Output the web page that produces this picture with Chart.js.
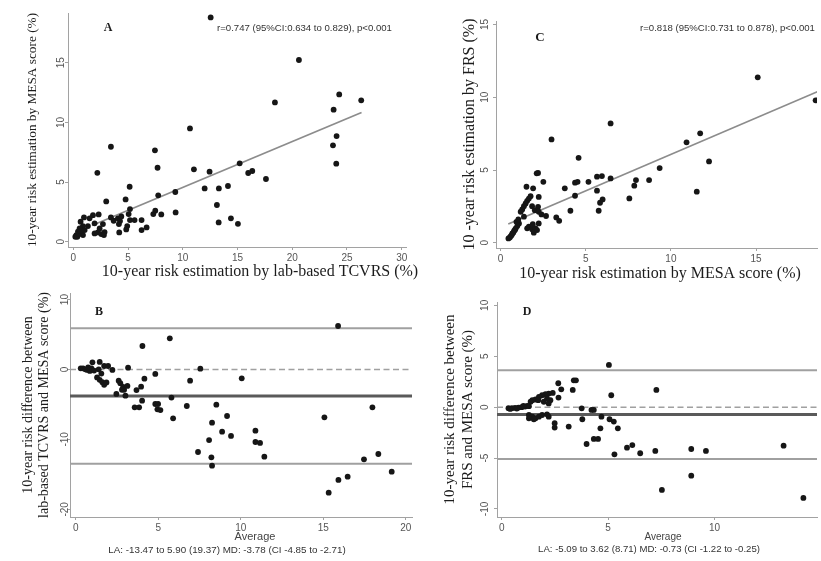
<!DOCTYPE html>
<html><head><meta charset="utf-8">
<script src="https://cdn.jsdelivr.net/npm/chart.js@4.4.1/dist/chart.umd.min.js"></script>
<style>
html,body{margin:0;padding:0;background:#fff;}
#wrap{position:relative;width:821px;height:561px;overflow:hidden;background:#fff;}
#wrap canvas{position:absolute;left:0;top:0;}
</style></head><body>
<div id="wrap">
<canvas id="cA" width="821" height="561"></canvas>
<canvas id="cB" width="821" height="561"></canvas>
<canvas id="cC" width="821" height="561"></canvas>
<canvas id="cD" width="821" height="561"></canvas>
</div>
<script>
// ---------- Panel A: lab-based TCVRS (x) vs MESA score (y) ----------
const aTCVRS = [12.55,10.66,3.44,7.46,7.7,11.02,12.45,2.2,15.2,5.15,7.76,9.32,12.0,13.3,14.13,3.01,4.78,13.12,5.18,7.49,7.31,8.04,9.35,13.28,14.4,15.04,
  3.44,3.69,4.08,4.27,4.39,4.17,5.06,5.18,5.6,6.24,6.24,6.7,4.93,4.84,4.2,2.71,2.86,2.25,2.41,1.95,1.8,2.32,1.49,0.98,0.67,1.34,0.88,1.95,2.56,2.8,
  0.28,0.43,0.58,0.19,0.73,1.04,0.37,0.89,0.52,0.67,
  20.61,18.42,24.29,26.3,23.78,24.05,23.72,24.02,15.98,16.35,17.6];
const aMESA = [18.8,9.5,7.96,7.66,6.2,6.07,5.87,5.78,6.57,4.61,3.89,4.17,4.47,4.47,4.67,3.38,3.55,3.08,2.74,2.6,2.32,2.29,2.46,1.62,1.96,1.5,
  2.04,1.76,1.96,1.73,2.12,1.48,2.32,1.82,1.82,1.82,0.98,1.2,1.31,1.03,0.78,1.48,0.81,0.78,1.11,1.54,2.23,2.29,1.96,2.04,1.68,1.31,1.31,0.7,0.64,0.56,
  0.56,0.84,1.11,0.42,0.7,0.98,0.42,0.56,0.64,0.92,
  15.23,11.68,12.35,11.85,11.07,8.86,8.08,6.54,5.76,5.93,5.26];
const aFitX = [1.7, 26.33];
const aFitY = [1.36, 10.83];

// ---------- Panel C: MESA score (x) vs FRS (y) ----------
const cMESA = [6.46,2.99,4.58,2.12,2.2,2.51,1.52,1.91,3.77,4.37,4.52,5.16,5.66,5.95,6.46,4.37,5.66,5.84,5.99,5.76,4.1,2.24,1.76,1.66,1.56,1.47,1.37,1.27,1.85,2.2,2.01,2.24,1.18,1.37,2.4,2.67,3.27,3.44,1.66,1.56,1.85,2.05,1.95,2.14,2.24,1.89,
  0.46,0.6,0.69,0.79,0.89,0.98,1.08,0.54,0.65,0.93,1.04,0.75,0.85,
  15.1,18.5,11.72,10.92,12.24,9.34,11.52,8.72,7.95,7.85,7.56];
const cFRS = [8.2,7.1,5.84,4.77,4.8,4.19,3.85,3.74,3.74,4.13,4.19,4.19,4.54,4.58,4.42,3.23,3.58,2.75,2.98,2.2,2.2,3.15,3.2,3.04,2.88,2.7,2.51,2.29,2.51,2.47,2.24,2.13,2.13,1.79,1.95,1.84,1.74,1.51,1.1,0.99,0.92,0.99,0.69,0.87,1.33,1.28,
  0.3,0.46,0.64,0.82,0.99,1.15,1.33,0.37,0.53,1.44,1.6,0.7,0.9,
  11.37,9.79,7.52,6.9,5.59,5.13,3.51,4.31,4.31,3.92,3.05];
const cFitX = [0.45, 18.6];
const cFitY = [1.29, 10.38];

// ---------- Panel B: Bland-Altman TCVRS vs MESA ----------
const bAvg = [5.7,4.04,3.17,7.55,4.82,4.16,6.93,10.06,3.96,3.68,4.02,5.8,3.57,3.84,4.82,4.99,4.95,5.13,5.9,6.73,8.52,9.17,8.26,8.87,9.41,8.08,7.41,8.22,8.26,
  0.3,0.44,0.58,0.7,0.85,0.95,0.75,1.01,1.45,1.72,1.96,2.22,1.39,1.11,1.29,1.45,1.61,1.72,1.55,1.86,2.46,2.6,2.7,2.87,2.93,3.01,3.13,2.8,
  15.9,15.07,17.98,10.89,10.89,11.17,11.43,17.47,18.34,19.15,15.92,16.48,15.33];
const bDiff = [4.46,3.36,0.26,0.12,-0.64,-1.31,-1.6,-1.27,-2.46,-2.94,-4.46,-4.02,-5.41,-5.41,-4.94,-4.94,-5.7,-5.8,-6.99,-5.22,-5.03,-6.65,-7.61,-8.9,-9.5,-10.09,-11.8,-12.56,-13.76,
  0.16,0.16,0.02,-0.07,-0.21,0.16,0.3,1.03,1.08,0.5,0.5,-0.07,0.02,-0.16,-1.14,-1.48,-1.81,-2.19,-0.59,-1.86,-3.5,-1.6,-1.96,-2.5,-2.9,-3.75,-2.35,-2.9,
  6.22,-6.84,-5.41,-8.75,-10.37,-10.51,-12.47,-12.85,-12.09,-14.62,-15.8,-15.33,-17.62];
const bLimits = [5.90, -13.47];   // limits of agreement
const bMean = [-3.78];            // mean difference
const bZero = [0];

// ---------- Panel D: Bland-Altman FRS vs MESA ----------
const dAvg = [5.04,3.39,3.49,2.66,3.34,2.8,5.15,2.67,2.4,2.21,2.06,1.9,1.75,1.59,1.44,1.36,1.72,1.98,2.21,2.29,2.13,1.28,
  0.32,0.48,0.63,0.79,0.94,1.1,1.2,0.4,0.71,1.02,
  3.76,4.22,4.33,3.79,4.69,5.07,5.27,5.46,4.64,2.49,2.49,3.15,3.99,4.33,4.53,5.3,5.89,6.14,6.51,7.27,7.22,
  1.28,1.44,1.59,1.28,1.51,1.75,1.9,2.13,2.21,
  8.91,9.6,13.25,8.91,7.53,14.18];
const dDiff = [4.15,2.64,2.64,2.35,1.69,1.75,1.17,0.94,1.4,1.33,1.27,1.17,1.01,0.75,0.69,0.53,0.69,0.53,0.37,0.69,0.86,0.1,
  -0.1,-0.1,-0.07,-0.04,0.0,0.06,0.13,-0.17,-0.14,0.13,
  -0.11,-0.27,-0.27,-1.19,-0.93,-1.19,-1.42,-2.08,-2.08,-1.58,-2.01,-1.91,-3.62,-3.12,-3.12,-4.63,-3.98,-3.72,-4.53,1.69,-4.3,
  -0.77,-0.93,-1.1,-1.1,-1.19,-0.93,-0.77,-0.7,-0.93,
  -4.11,-4.3,-3.78,-6.73,-8.13,-8.92];
const dLimits = [3.62, -5.09];
const dMean = [-0.73];
const dZero = [0];

// ---------- tick labels ----------
const aTicksX = [0,5,10,15,20,25,30];
const aTicksY = [0,5,10,15];
const cTicksX = [0,5,10,15];
const cTicksY = [0,5,10,15];
const bTicksX = [0,5,10,15,20];
const bTicksY = [-20,-10,0,10];
const dTicksX = [0,5,10];
const dTicksY = [-10,-5,0,5,10];

// ---------- styling ----------
const W = 821, H = 561;
const SANS = "'Liberation Sans', Arial, sans-serif";
const SERIF = "'Liberation Serif', 'Times New Roman', serif";
const AXIS = '#a2a2a2', TICK = '#555555', TITLE = '#1c1c1c', DOT = '#161616';

function pts(xs, ys) { return xs.map((x, i) => ({x: x, y: ys[i]})); }
function scatterSet(xs, ys) {
  return {data: pts(xs, ys), pointRadius: 2.9, pointBackgroundColor: DOT, pointBorderWidth: 0, showLine: false};
}
function lineSet(xs, ys, color, width, dash) {
  return {data: pts(xs, ys), showLine: true, borderColor: color, borderWidth: width, borderDash: dash || [], pointRadius: 0, fill: false};
}
function hSet(v, g, color, width, dash) {
  return lineSet([g.xMin, g.xMax], [v, v], color, width, dash);
}
function notes(items) {
  return {
    id: 'notes',
    afterDraw(chart) {
      const ctx = chart.ctx;
      ctx.save();
      items.forEach(t => {
        ctx.font = t.font;
        ctx.fillStyle = t.color || TITLE;
        ctx.textAlign = t.align || 'center';
        ctx.textBaseline = 'middle';
        ctx.fillText(t.text, t.x, t.y);
      });
      ctx.restore();
    }
  };
}

function makePanel(id, g) {
  return new Chart(document.getElementById(id), {
    type: 'scatter',
    data: {datasets: g.datasets},
    options: {
      responsive: false, animation: false, events: [],
      layout: {padding: {left: g.area.l - g.yW, top: g.area.t, right: W - g.area.r, bottom: H - g.area.b - g.xH}},
      plugins: {legend: {display: false}, tooltip: {enabled: false}},
      scales: {
        x: {
          type: 'linear', position: 'bottom', min: g.xMin, max: g.xMax,
          afterBuildTicks: s => { s.ticks = g.xTicks.map(v => ({value: v})); },
          afterFit: s => { s.height = g.xH; },
          grid: {drawOnChartArea: false, drawTicks: true, tickLength: 3, color: AXIS, lineWidth: 1},
          border: {display: true, color: AXIS, width: 1},
          ticks: {font: {family: SANS, size: 10}, color: TICK, padding: g.xPad, maxRotation: 0, minRotation: 0, autoSkip: false}
        },
        y: {
          type: 'linear', position: 'left', min: g.yMin, max: g.yMax,
          afterBuildTicks: s => { s.ticks = g.yTicks.map(v => ({value: v})); },
          afterFit: s => { s.width = g.yW; },
          grid: {drawOnChartArea: false, drawTicks: true, tickLength: 3, color: AXIS, lineWidth: 1},
          border: {display: true, color: AXIS, width: 1},
          ticks: {font: {family: SANS, size: 10}, color: TICK, padding: g.yPad, minRotation: 90, maxRotation: 90, crossAlign: 'center', autoSkip: false},
          title: {display: true, text: g.yTitle, color: TITLE, font: {family: SERIF, size: g.yTitleSize, lineHeight: 1.2}, padding: {top: g.yTitlePad, bottom: 0}}
        }
      }
    },
    plugins: [notes(g.notes)]
  });
}

// Panel A
const gA = {area: {l: 68, t: 13, r: 406, b: 247}, yW: 68, xH: 20, xMin: -0.48, xMax: 30.39, yMin: -0.44, yMax: 19.17,
  xTicks: aTicksX, yTicks: aTicksY, xPad: 2, yPad: -2.1,
  yTitle: '10-year risk estimation by MESA score (%)', yTitleSize: 13.3, yTitlePad: 25};
gA.datasets = [scatterSet(aTCVRS, aMESA), lineSet(aFitX, aFitY, '#8c8c8c', 1.8)];
gA.notes = [
  {text: 'A', x: 108, y: 28, font: 'bold 12px ' + SERIF},
  {text: 'r=0.747 (95%CI:0.634 to 0.829), p<0.001', x: 217, y: 28, align: 'left', font: '9.6px ' + SANS, color: '#333'},
  {text: '10-year risk estimation by lab-based TCVRS (%)', x: 260, y: 272, font: '16px ' + SERIF}
];
makePanel('cA', gA);

// Panel C
const gC = {area: {l: 496, t: 21, r: 821, b: 248}, yW: 86, xH: 20, xMin: -0.27, xMax: 18.58, yMin: -0.36, yMax: 15.24,
  xTicks: cTicksX, yTicks: cTicksY, xPad: 2, yPad: 2.4,
  yTitle: '10 -year risk estimation by FRS (%)', yTitleSize: 16, yTitlePad: 50.4};
gC.datasets = [scatterSet(cMESA, cFRS), lineSet(cFitX, cFitY, '#8c8c8c', 1.8)];
gC.notes = [
  {text: 'C', x: 540, y: 38, font: 'bold 13px ' + SERIF},
  {text: 'r=0.818 (95%CI:0.731 to 0.878), p<0.001', x: 640, y: 28, align: 'left', font: '9.6px ' + SANS, color: '#333'},
  {text: '10-year risk estimation by MESA score (%)', x: 660, y: 274, font: '16px ' + SERIF}
];
makePanel('cC', gC);

// Panel B
const gB = {area: {l: 70, t: 293, r: 412, b: 517}, yW: 70, xH: 20, xMin: -0.35, xMax: 20.38, yMin: -21.1, yMax: 10.94,
  xTicks: bTicksX, yTicks: bTicksY, xPad: 2.7, yPad: -5.2,
  yTitle: ['10-year risk difference between', 'lab-based TCVRS and MESA score (%)'], yTitleSize: 14, yTitlePad: 19.6};
gB.datasets = [scatterSet(bAvg, bDiff),
  hSet(bZero[0], gB, '#a0a0a0', 1.5, [6, 3.5]),
  hSet(bMean[0], gB, '#5a5a5a', 3),
  hSet(bLimits[0], gB, '#a0a0a0', 2),
  hSet(bLimits[1], gB, '#a0a0a0', 2)];
gB.notes = [
  {text: 'B', x: 99, y: 312, font: 'bold 12px ' + SERIF},
  {text: 'Average', x: 255, y: 537, font: '11px ' + SANS, color: '#444'},
  {text: 'LA: -13.47 to 5.90 (19.37) MD: -3.78 (CI -4.85 to -2.71)', x: 227, y: 550, font: '9.8px ' + SANS, color: '#333'}
];
makePanel('cB', gB);

// Panel D
const gD = {area: {l: 497, t: 302, r: 821, b: 517}, yW: 87, xH: 20, xMin: -0.22, xMax: 14.82, yMin: -10.79, yMax: 10.33,
  xTicks: dTicksX, yTicks: dTicksY, xPad: 2.7, yPad: 1.8,
  yTitle: ['10-year risk difference between', 'FRS and MESA score (%)'], yTitleSize: 15, yTitlePad: 31};
gD.datasets = [scatterSet(dAvg, dDiff),
  hSet(dZero[0], gD, '#a0a0a0', 1.5, [6, 3.5]),
  hSet(dMean[0], gD, '#5a5a5a', 3),
  hSet(dLimits[0], gD, '#a0a0a0', 2),
  hSet(dLimits[1], gD, '#a0a0a0', 2)];
gD.notes = [
  {text: 'D', x: 527, y: 312, font: 'bold 12px ' + SERIF},
  {text: 'Average', x: 663, y: 537, font: '10px ' + SANS, color: '#444'},
  {text: 'LA: -5.09 to 3.62 (8.71) MD: -0.73 (CI -1.22 to -0.25)', x: 649, y: 549, font: '9.6px ' + SANS, color: '#333'}
];
makePanel('cD', gD);
</script>
</body></html>
